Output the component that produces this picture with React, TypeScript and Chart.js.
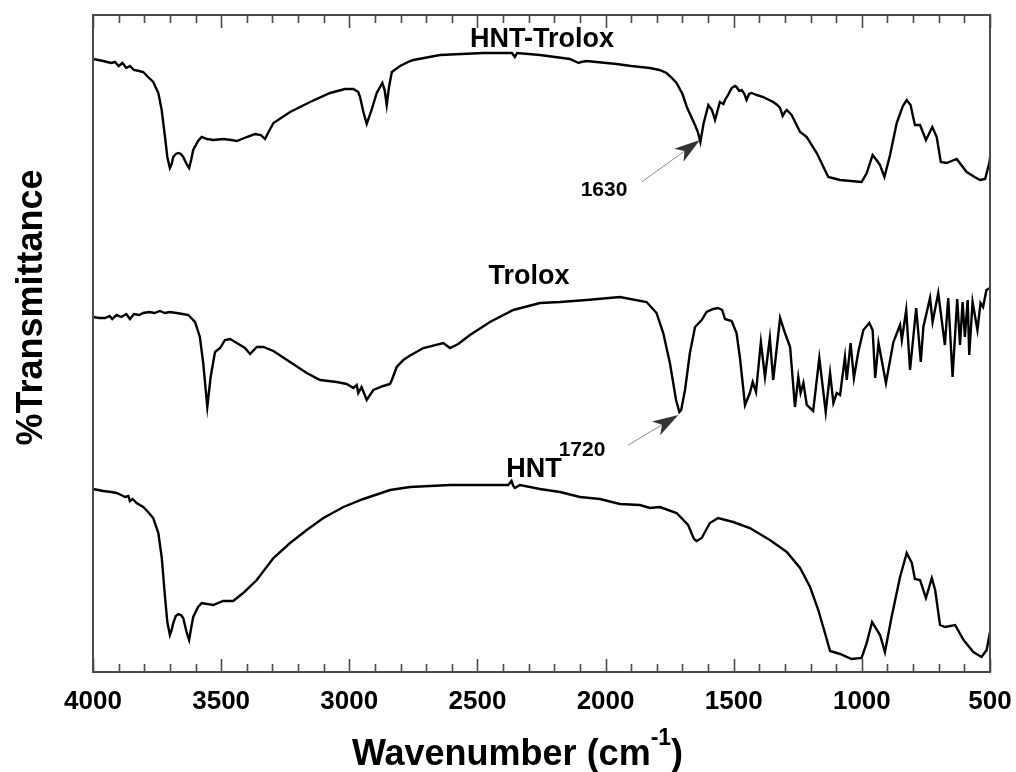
import React, { useEffect, useRef } from "react";
import { Chart, registerables } from "chart.js";

Chart.register(...registerables);

// Wavenumber axis (cm^-1), reversed from 4000 to 500
const xMin = 500;
const xMax = 4000;
const majorStep = 500;
const minorStep = 100;

// Arbitrary transmittance units (offset spectra), full range of the y axis
const yMin = 0;
const yMax = 657;

// HNT-Trolox spectrum: [wavenumber, transmittance (a.u.)]
const hntTrolox: [number, number][] = [
  [4000, 613], [3960, 611], [3930, 609], [3914, 610], [3900, 606], [3885, 609], [3870, 604],
  [3856, 606], [3840, 602], [3820, 601], [3804, 600], [3785, 595], [3765, 590], [3745, 579],
  [3732, 562], [3719, 535], [3710, 515], [3700, 504], [3693, 508], [3687, 515], [3677, 518],
  [3667, 519], [3657, 518], [3648, 515], [3635, 508], [3625, 504], [3617, 512], [3609, 522],
  [3590, 531], [3576, 535], [3555, 533], [3531, 532], [3492, 533], [3460, 532], [3439, 531],
  [3400, 535], [3368, 538], [3345, 537], [3329, 533], [3315, 540], [3296, 549], [3231, 560],
  [3153, 570], [3075, 579], [3017, 583], [2984, 583], [2965, 580], [2958, 575], [2945, 560],
  [2932, 548], [2913, 562], [2893, 579], [2871, 589], [2862, 582], [2854, 567], [2845, 585],
  [2834, 600], [2802, 606], [2763, 611], [2750, 612], [2646, 617], [2477, 619], [2365, 619],
  [2354, 615], [2345, 619], [2256, 617], [2139, 613], [2105, 609], [2095, 610], [2074, 611],
  [1957, 608], [1900, 606], [1827, 604], [1790, 602], [1762, 599], [1745, 595], [1723, 589],
  [1700, 578], [1683, 565], [1651, 547], [1640, 540], [1630, 530], [1618, 548], [1599, 567],
  [1585, 562], [1573, 552], [1554, 570], [1540, 568], [1534, 572], [1520, 578], [1508, 584],
  [1495, 586], [1489, 585], [1478, 581], [1469, 582], [1458, 578], [1450, 572], [1440, 578],
  [1430, 579], [1410, 577], [1385, 575], [1346, 570], [1330, 567], [1319, 564], [1309, 556],
  [1300, 560], [1293, 562], [1274, 557], [1241, 540], [1230, 538], [1215, 535], [1176, 519],
  [1131, 495], [1085, 492], [1001, 490], [981, 499], [958, 517], [940, 511], [929, 507],
  [912, 495], [890, 517], [864, 549], [840, 566], [825, 572], [810, 567], [793, 547],
  [773, 547], [750, 532], [725, 545], [708, 535], [692, 510], [669, 509], [650, 511],
  [630, 513], [591, 500], [560, 495], [539, 492], [519, 493], [502, 510], [500, 515],
];

// Trolox spectrum
const trolox: [number, number][] = [
  [4000, 355], [3975, 354], [3953, 354], [3935, 356], [3925, 353], [3908, 357], [3890, 355],
  [3870, 358], [3856, 353], [3840, 358], [3820, 357], [3804, 359], [3780, 360], [3760, 359],
  [3739, 361], [3720, 359], [3700, 360], [3674, 359], [3650, 358], [3628, 357], [3602, 350],
  [3583, 335], [3570, 309], [3554, 265], [3541, 295], [3524, 320], [3504, 324], [3485, 332],
  [3465, 333], [3439, 329], [3407, 324], [3387, 318], [3361, 325], [3335, 325], [3296, 321],
  [3231, 310], [3166, 299], [3114, 292], [3049, 290], [3010, 288], [2984, 284], [2971, 287],
  [2965, 279], [2952, 285], [2932, 272], [2906, 282], [2867, 286], [2841, 288], [2834, 292],
  [2815, 305], [2789, 312], [2766, 316], [2711, 324], [2633, 329], [2607, 324], [2575, 328],
  [2529, 337], [2451, 350], [2360, 362], [2256, 369], [2178, 370], [2074, 372], [1944, 375],
  [1840, 370], [1801, 359], [1775, 339], [1749, 309], [1725, 272], [1712, 260], [1705, 262],
  [1690, 282], [1671, 319], [1651, 345], [1625, 352], [1606, 360], [1580, 363], [1561, 364],
  [1545, 362], [1534, 353], [1508, 351], [1489, 339], [1476, 315], [1456, 267], [1437, 279],
  [1426, 290], [1413, 280], [1394, 330], [1378, 295], [1359, 334], [1346, 292], [1319, 354],
  [1300, 339], [1280, 325], [1261, 265], [1248, 295], [1239, 279], [1228, 289], [1215, 267],
  [1190, 261], [1166, 314], [1141, 260], [1124, 299], [1111, 269], [1098, 279], [1085, 277],
  [1066, 315], [1059, 292], [1044, 329], [1031, 294], [1014, 320], [994, 342], [971, 349],
  [958, 342], [948, 294], [935, 329], [906, 289], [877, 330], [851, 347], [844, 332],
  [827, 362], [812, 302], [788, 364], [770, 310], [760, 345], [734, 374], [724, 350],
  [702, 379], [676, 327], [663, 374], [646, 295], [628, 373], [617, 327], [607, 370],
  [598, 335], [587, 372], [581, 317], [568, 370], [549, 342], [537, 369], [527, 365],
  [514, 382], [500, 384],
];

// HNT spectrum
const hnt: [number, number][] = [
  [4000, 183], [3960, 181], [3930, 180], [3908, 179], [3890, 177], [3875, 175], [3862, 176],
  [3856, 171], [3845, 173], [3830, 169], [3804, 165], [3785, 160], [3765, 154], [3745, 139],
  [3732, 115], [3719, 75], [3710, 50], [3700, 37], [3693, 42], [3687, 49], [3677, 56],
  [3667, 58], [3657, 57], [3648, 54], [3635, 40], [3625, 32], [3617, 44], [3609, 55],
  [3590, 65], [3576, 69], [3531, 67], [3492, 71], [3453, 71], [3414, 79], [3361, 92],
  [3296, 114], [3231, 129], [3166, 142], [3101, 154], [3023, 165], [2945, 173], [2841, 182],
  [2763, 185], [2607, 187], [2451, 187], [2380, 187], [2367, 191], [2360, 186], [2354, 184],
  [2334, 187], [2256, 183], [2178, 180], [2100, 175], [2022, 173], [1944, 168], [1866, 167],
  [1827, 164], [1788, 165], [1723, 159], [1678, 147], [1655, 133], [1645, 131], [1625, 134],
  [1593, 149], [1561, 154], [1502, 150], [1437, 144], [1359, 132], [1293, 120], [1241, 104],
  [1202, 85], [1170, 62], [1144, 39], [1124, 21], [1085, 18], [1040, 13], [1001, 14],
  [981, 29], [960, 50], [929, 37], [910, 20], [884, 55], [851, 95], [825, 119], [805, 109],
  [793, 93], [773, 92], [750, 74], [727, 94], [714, 82], [695, 47], [675, 45], [636, 47],
  [603, 32], [565, 20], [533, 15], [513, 22], [500, 40],
];

// Text annotations: [text, wavenumber, transmittance, font size]
const curveLabels: [string, number, number, number][] = [
  ["HNT-Trolox", 2248, 632, 27],
  ["Trolox", 2299, 395, 27],
  ["HNT", 2279, 202, 27],
  ["1720", 2092, 222, 21],
  ["1630", 2006, 482, 21],
];

// Arrows: [fromWavenumber, fromT, toWavenumber, toT]
const arrows: [number, number, number, number][] = [
  [1859, 490, 1632, 532],
  [1911, 227, 1716, 257],
];

const FONT = "'Liberation Sans', Arial, Helvetica, sans-serif";

const decorations = {
  id: "decorations",
  afterDraw(chart: any) {
    const { ctx, chartArea: a, scales } = chart;
    const x = scales.x;
    const y = scales.y;
    ctx.save();

    // frame
    ctx.strokeStyle = "#4a4a4a";
    ctx.lineWidth = 2;
    ctx.strokeRect(a.left, a.top, a.right - a.left, a.bottom - a.top);

    // inward ticks top and bottom
    ctx.lineWidth = 1.6;
    for (let w = xMin; w <= xMax; w += minorStep) {
      const px = Math.round(x.getPixelForValue(w)) + 0.5;
      const len = w % majorStep === 0 ? 13 : 8;
      ctx.beginPath();
      ctx.moveTo(px, a.bottom);
      ctx.lineTo(px, a.bottom - len);
      ctx.moveTo(px, a.top);
      ctx.lineTo(px, a.top + len);
      ctx.stroke();
    }

    // curve labels
    ctx.fillStyle = "#000";
    ctx.textAlign = "center";
    ctx.textBaseline = "middle";
    for (const [text, w, t, size] of curveLabels) {
      ctx.font = `bold ${size}px ${FONT}`;
      ctx.fillText(text, x.getPixelForValue(w), y.getPixelForValue(t));
    }

    // arrows
    for (const [w0, t0, w1, t1] of arrows) {
      const x0 = x.getPixelForValue(w0);
      const y0 = y.getPixelForValue(t0);
      const x1 = x.getPixelForValue(w1);
      const y1 = y.getPixelForValue(t1);
      const ang = Math.atan2(y1 - y0, x1 - x0);
      const headLen = 26;
      const headHalf = 8;
      const notch = 19;
      const cos = Math.cos(ang);
      const sin = Math.sin(ang);
      ctx.strokeStyle = "#8c8c8c";
      ctx.lineWidth = 1;
      ctx.beginPath();
      ctx.moveTo(x0, y0);
      ctx.lineTo(x1 - cos * notch, y1 - sin * notch);
      ctx.stroke();
      ctx.fillStyle = "#333";
      ctx.beginPath();
      ctx.moveTo(x1, y1);
      ctx.lineTo(x1 - cos * headLen - sin * headHalf, y1 - sin * headLen + cos * headHalf);
      ctx.lineTo(x1 - cos * notch, y1 - sin * notch);
      ctx.lineTo(x1 - cos * headLen + sin * headHalf, y1 - sin * headLen - cos * headHalf);
      ctx.closePath();
      ctx.fill();
    }

    // y axis title
    ctx.fillStyle = "#000";
    ctx.save();
    ctx.translate(a.left - 51, (a.top + a.bottom) / 2 - 36);
    ctx.rotate(-Math.PI / 2);
    ctx.font = `bold 36px ${FONT}`;
    ctx.textAlign = "center";
    ctx.textBaseline = "alphabetic";
    ctx.fillText("%Transmittance", 0, 0);
    ctx.restore();

    // x axis title with superscript
    const main = "Wavenumber (cm";
    const sup = "-1";
    const close = ")";
    ctx.textAlign = "left";
    ctx.textBaseline = "alphabetic";
    ctx.font = `bold 36px ${FONT}`;
    const wMain = ctx.measureText(main).width;
    const wClose = ctx.measureText(close).width;
    ctx.font = `bold 23px ${FONT}`;
    const wSup = ctx.measureText(sup).width;
    const total = wMain + wSup + wClose;
    const cx = (a.left + a.right) / 2 - 24;
    const base = a.bottom + 93;
    let sx = cx - total / 2;
    ctx.font = `bold 36px ${FONT}`;
    ctx.fillText(main, sx, base);
    sx += wMain;
    ctx.font = `bold 23px ${FONT}`;
    ctx.fillText(sup, sx, base - 20);
    sx += wSup;
    ctx.font = `bold 36px ${FONT}`;
    ctx.fillText(close, sx, base);

    ctx.restore();
  },
};

function toPoints(series: [number, number][]) {
  return series.map(([w, t]) => ({ x: w, y: t }));
}

export default function App() {
  const canvasRef = useRef<HTMLCanvasElement | null>(null);

  useEffect(() => {
    document.body.style.margin = "0";
    const canvas = canvasRef.current;
    if (!canvas) return;
    const lineStyle = {
      borderColor: "#000",
      borderWidth: 2.4,
      pointRadius: 0,
      tension: 0,
      fill: false,
    };
    const chart = new Chart(canvas, {
      type: "line",
      data: {
        datasets: [
          { label: "HNT-Trolox", data: toPoints(hntTrolox), ...lineStyle },
          { label: "Trolox", data: toPoints(trolox), ...lineStyle },
          { label: "HNT", data: toPoints(hnt), ...lineStyle },
        ],
      },
      options: {
        animation: false,
        responsive: false,
        devicePixelRatio: 1,
        layout: { padding: { left: 93, right: 26, top: 15, bottom: 0 } },
        plugins: {
          legend: { display: false },
          tooltip: { enabled: false },
        },
        scales: {
          x: {
            type: "linear",
            reverse: true,
            min: xMin,
            max: xMax,
            grid: { display: false, drawTicks: false },
            border: { display: false },
            ticks: {
              stepSize: majorStep,
              color: "#000",
              font: { family: FONT, size: 26, weight: "bold" },
              padding: 14,
              maxRotation: 0,
              callback: (v: any) => String(v),
            },
            afterFit: (s: any) => {
              s.height = 100;
              s.paddingLeft = 0;
              s.paddingRight = 0;
            },
          },
          y: {
            type: "linear",
            display: false,
            min: yMin,
            max: yMax,
          },
        },
      },
      plugins: [decorations],
    });
    return () => chart.destroy();
  }, []);

  return (
    <div style={{ width: 1016, height: 772, background: "#fff" }}>
      <canvas ref={canvasRef} width={1016} height={772} />
    </div>
  );
}
